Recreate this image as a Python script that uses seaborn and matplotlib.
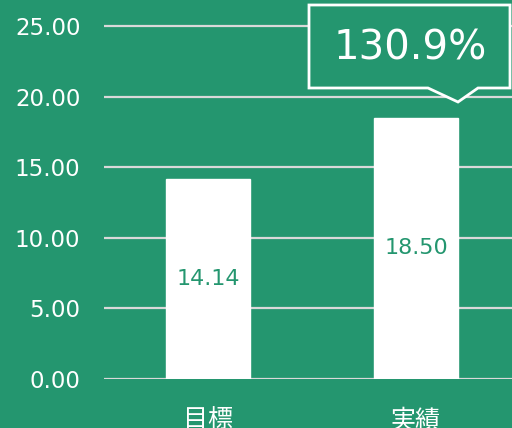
import pandas as pd
import numpy as np
import matplotlib
matplotlib.use('Agg')
import matplotlib.pyplot as plt
from matplotlib.patches import Polygon
import seaborn as sns

# data
categories = ['目標', '実績']
values = [14.14, 18.50]
rate = 130.9  # 達成率 (%)
yticks = [0, 5, 10, 15, 20, 25]

bg = '#24966F'
grid_c = '#D9D9D9'

sns.set_theme(style='white')
plt.rcParams['font.family'] = ['DejaVu Sans', 'Noto Sans CJK JP']

df = pd.DataFrame({'項目': categories, '値': values})

fig = plt.figure(figsize=(5.12, 4.28), dpi=100, facecolor=bg)
ax = fig.add_axes([104/512, 1 - 379/428, 408/512, 379/428])
ax.set_facecolor(bg)

sns.barplot(data=df, x='項目', y='値', color='white', width=0.4,
            saturation=1, ax=ax, zorder=3)

ax.set_xlim(-0.5, -0.5 + 408/208)
ax.set_ylim(0, 379/14.12)
ax.set_yticks(yticks)
ax.set_yticklabels(['{:.2f}'.format(v) for v in yticks])
for y in yticks:
    ax.axhline(y, color=grid_c, lw=1.6, zorder=1)

for s in ax.spines.values():
    s.set_visible(False)
ax.set_xlabel('')
ax.set_ylabel('')
ax.tick_params(axis='y', length=0, pad=17, labelsize=16.5, labelcolor='white')
ax.tick_params(axis='x', length=0, pad=21, labelsize=18, labelcolor='white')

ax.bar_label(ax.containers[0], labels=['{:.2f}'.format(v) for v in values],
             label_type='center', color=bg, fontsize=16)

# callout
pts = [(309, 5), (510, 5), (510, 88), (478, 88), (458, 102), (428, 88), (309, 88)]
pts = [(x/512, 1 - y/428) for x, y in pts]
poly = Polygon(pts, closed=True, facecolor=bg, edgecolor='white', lw=2,
               transform=fig.transFigure, zorder=5)
fig.patches.append(poly)
fig.text(410/512, 1 - 48/428, '{:.1f}%'.format(rate), color='white',
         fontsize=29, ha='center', va='center', zorder=6)

fig.savefig('out.png', dpi=100, facecolor=bg)
